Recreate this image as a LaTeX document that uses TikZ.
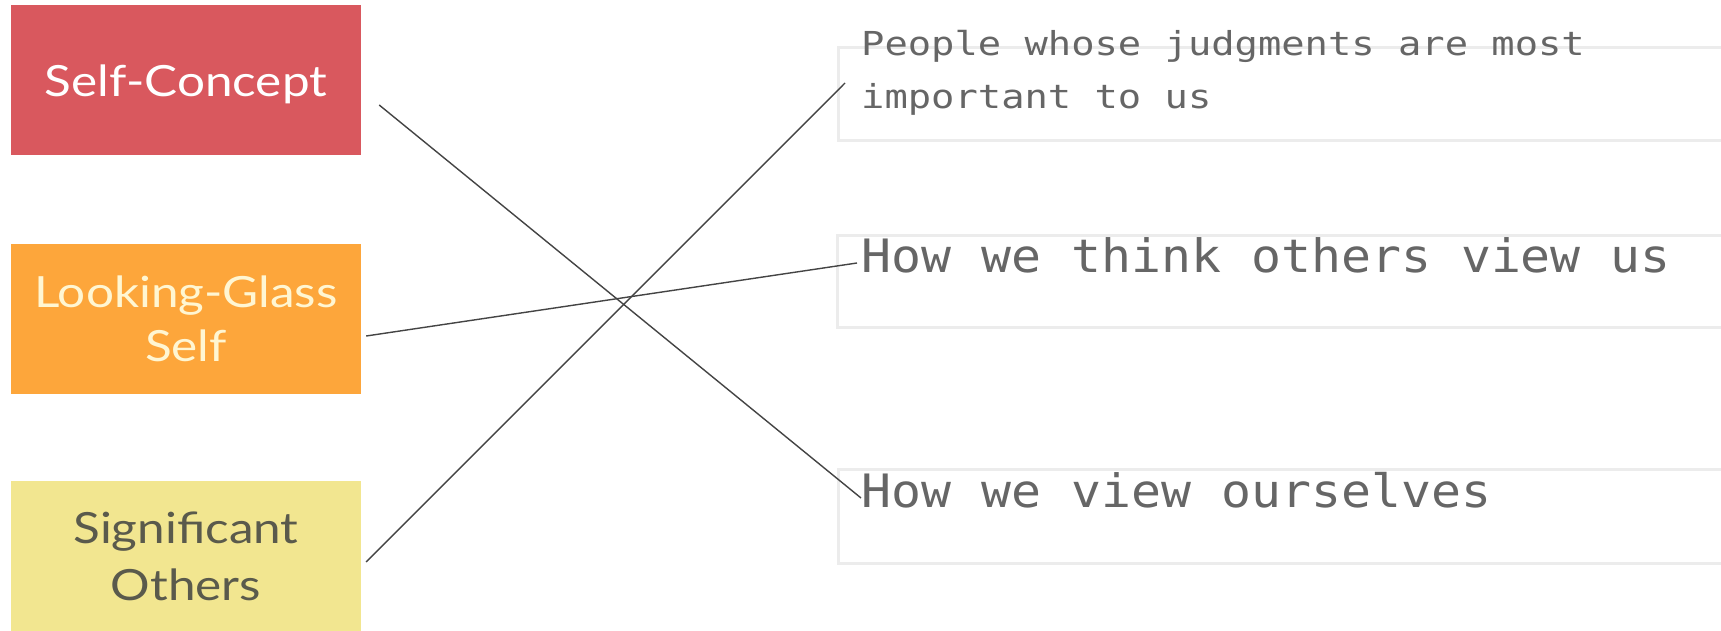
\documentclass[tikz,border=0pt]{standalone}
\usepackage{fontspec}
\newfontfamily\boxfont[FakeStretch=1.15]{Lato}
\newfontfamily\monoA[FakeStretch=1.175]{DejaVu Sans Mono}
\newfontfamily\monoB[FakeStretch=1.083]{DejaVu Sans Mono}
\definecolor{cred}{HTML}{D9585E}
\definecolor{corange}{HTML}{FDA63B}
\definecolor{cyellow}{HTML}{F2E690}
\definecolor{ctxtdark}{HTML}{5A5A4C}
\definecolor{ccream}{HTML}{FFF6D2}
\definecolor{cmono}{HTML}{666666}
\definecolor{cframe}{HTML}{ECECEC}
\definecolor{cline}{HTML}{444444}
\tikzset{
  leftbox/.style={rectangle, minimum width=350pt, minimum height=150pt, inner sep=0pt,
    align=center, text depth=0pt, font=\boxfont\fontsize{43}{54}\selectfont},
  rightframe/.style={draw=cframe, line width=3pt, fill=white},
  monotext/.style={inner sep=0pt, anchor=base west, align=left, text=cmono},
  link/.style={draw=cline, line width=1.4pt}
}
\begin{document}
\begin{tikzpicture}[x=1pt,y=-1pt]
\fill[white] (0,0) rectangle (1721,631);
\useasboundingbox (0,0) rectangle (1721,631);
% left boxes
\node[leftbox, fill=cred, text=white, text depth=-4.5pt] (sc) at (186,80.5) {Self-Concept};
\node[leftbox, fill=corange, text=ccream, text depth=-8pt] (lg) at (186,318.5) {Looking-Glass\\Self};
\node[leftbox, fill=cyellow, text=ctxtdark, text depth=-3pt, font=\boxfont\fontsize{43}{57}\selectfont] (so) at (186,556) {Significant\\Others};
% right frames
\draw[rightframe] (838,48) rectangle (1760,141);
\draw[rightframe] (837,235) rectangle (1760,327);
\draw[rightframe] (838,469) rectangle (1760,563);
% texts
\node[monotext, font=\monoA\fontsize{33}{53}\selectfont] (t1) at (861,109) {People whose judgments are most\\important to us};
\node[monotext, font=\monoB\fontsize{46}{55}\selectfont] (t2) at (861,272) {How we think others view us};
\node[monotext, font=\monoB\fontsize{46}{55}\selectfont] (t3) at (861,507) {How we view ourselves};
% links
\draw[link] ([shift={(18,24.5)}]sc.east) -- ([shift={(0,-9)}]t3.base west);
\draw[link] ([shift={(5,17.5)}]lg.east) -- ([shift={(-4,-9)}]t2.base west);
\draw[link] ([shift={(5,6)}]so.east) -- ([shift={(-16,-26)}]t1.base west);
\end{tikzpicture}
\end{document}
